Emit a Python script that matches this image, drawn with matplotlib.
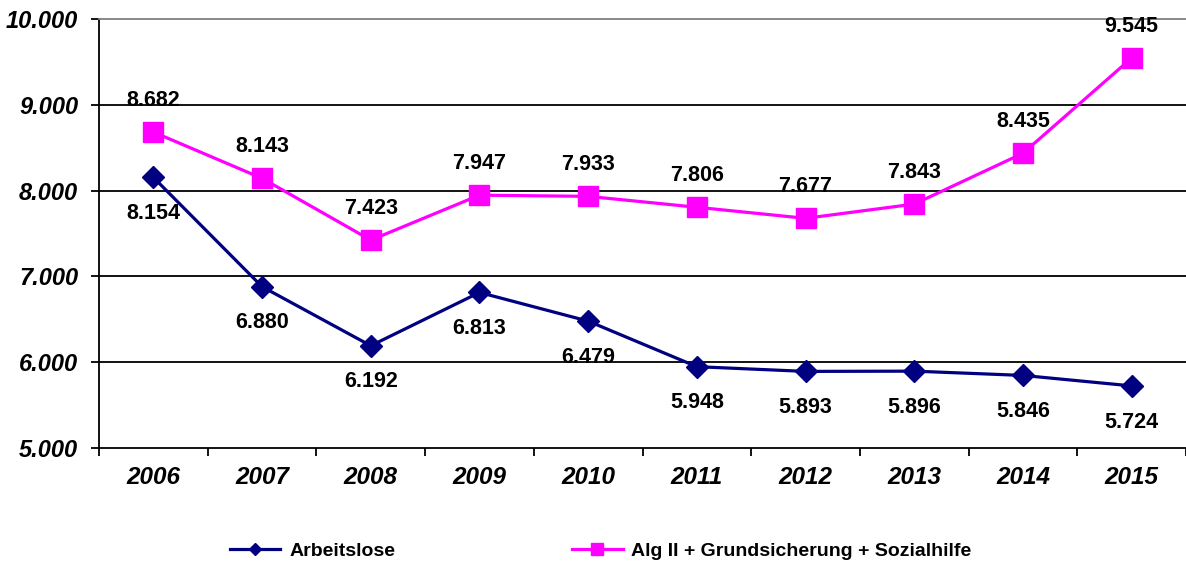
import numpy as np
import matplotlib.pyplot as plt

years = ['2006', '2007', '2008', '2009', '2010', '2011', '2012', '2013', '2014', '2015']
arbeitslose = [8154, 6880, 6192, 6813, 6479, 5948, 5893, 5896, 5846, 5724]
alg2 = [8682, 8143, 7423, 7947, 7933, 7806, 7677, 7843, 8435, 9545]
yticks = [5000, 6000, 7000, 8000, 9000, 10000]

def fmt(v):
    return f"{v:,}".replace(',', '.')

plt.rcParams['font.family'] = ['Liberation Sans', 'DejaVu Sans']

blue = '#000080'
pink = '#ff00ff'

fig = plt.figure(figsize=(11.86, 5.62), dpi=100)
ax = fig.add_axes([0.0835, 0.2028, 0.9165, 0.7634])
x = np.arange(len(years))

ax.plot(x, arbeitslose, color=blue, lw=2.3, marker='D', ms=11, label='Arbeitslose', zorder=3)
ax.plot(x, alg2, color=pink, lw=2.3, marker='s', ms=14,
        label='Alg II + Grundsicherung + Sozialhilfe', zorder=3)

for xi, v in zip(x, arbeitslose):
    ax.annotate(fmt(v), (xi, v), xytext=(0, -26), textcoords='offset points',
                ha='center', va='center', fontsize=15.5, fontweight='bold')
for xi, v in zip(x, alg2):
    ax.annotate(fmt(v), (xi, v), xytext=(0, 23), textcoords='offset points',
                ha='center', va='center', fontsize=15.5, fontweight='bold')

for g in yticks[1:-1]:
    ax.axhline(g, color='black', lw=1.3, zorder=1)

ax.set_xlim(-0.5, len(years) - 0.5)
ax.set_ylim(5000, 10000)
ax.set_yticks(yticks)
ax.set_yticklabels([fmt(v) for v in yticks], fontsize=17, fontweight='bold', style='italic')
ax.set_xticks(x)
ax.set_xticklabels(years, fontsize=17.5, fontweight='bold', style='italic')
ax.set_xticks(np.arange(-0.5, len(years)), minor=True)
ax.tick_params(axis='x', which='major', length=0, pad=13)
ax.tick_params(axis='x', which='minor', length=6, width=1.3, direction='out')
ax.tick_params(axis='y', length=6, width=1.3, direction='out', pad=9)

ax.spines['right'].set_visible(False)
ax.spines['top'].set_color('#808080')
ax.spines['top'].set_linewidth(1.3)
ax.spines['left'].set_linewidth(1.3)
ax.spines['bottom'].set_linewidth(1.3)

fig.legend(loc='lower left', bbox_to_anchor=(0.179, -0.028), ncol=2, frameon=False,
           handlelength=2.6, columnspacing=9.1, handletextpad=0.45, markerscale=0.6,
           prop={'weight': 'bold', 'size': 14})

fig.savefig('out.png', dpi=100)
